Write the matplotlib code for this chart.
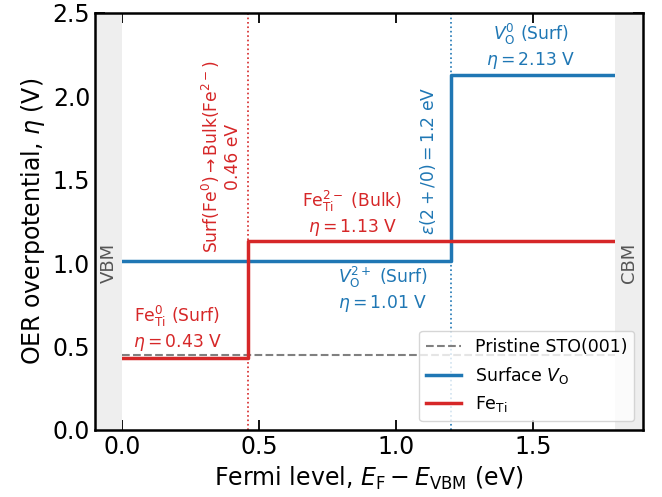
import matplotlib
matplotlib.use("Agg")
import matplotlib.pyplot as plt

gap = 1.8
pristine = 0.45
vo_steps_x = [0.0, 1.2, gap]
vo_vals = [1.01, 2.13]
fe_steps_x = [0.0, 0.46, gap]
fe_vals = [0.43, 1.13]
blue = '#1f77b4'
red = '#d62728'

fig = plt.figure(figsize=(6.62, 4.97), dpi=100)
ax = fig.add_axes([0.1435, 0.135, 0.8275, 0.839])

ax.axvspan(-0.1, 0.0, color='#eeeeee', lw=0, zorder=2.6)
ax.axvspan(gap, 1.9, color='#eeeeee', lw=0, zorder=2.6)

ax.plot([0, gap], [pristine, pristine], ls='--', color='gray', lw=1.5, label='Pristine STO(001)')
ax.step(vo_steps_x, vo_vals + [vo_vals[-1]], where='post', color=blue, lw=2.5, label='Surface $V_{\\rm O}$')
ax.step(fe_steps_x, fe_vals + [fe_vals[-1]], where='post', color=red, lw=2.5, label='Fe$_{\\rm Ti}$')

ax.axvline(fe_steps_x[1], color=red, ls=':', lw=1.2, zorder=0)
ax.axvline(vo_steps_x[1], color=blue, ls=':', lw=1.2, zorder=0)

fs = 12.3
ax.text(0.36, 1.06, 'Surf(Fe$^0$)$\\rightarrow$Bulk(Fe$^{2-}$)\n0.46 eV', rotation=90,
        ha='center', va='bottom', color=red, fontsize=fs, multialignment='center')
ax.text(1.115, 1.61, '$\\epsilon(2+/0) = 1.2$ eV', rotation=90, ha='center', va='center',
        color=blue, fontsize=fs)
ax.text(-0.05, 1.0, 'VBM', rotation=90, ha='center', va='center', color='#555555', fontsize=13, zorder=4)
ax.text(1.85, 1.0, 'CBM', rotation=90, ha='center', va='center', color='#555555', fontsize=13, zorder=4)

ax.text(0.2, 0.46, 'Fe$_{\\rm Ti}^{0}$ (Surf)\n$\\eta = 0.43$ V', ha='center', va='bottom',
        color=red, fontsize=fs, multialignment='center')
ax.text(0.84, 1.15, 'Fe$_{\\rm Ti}^{2-}$ (Bulk)\n$\\eta = 1.13$ V', ha='center', va='bottom',
        color=red, fontsize=fs, multialignment='center')
ax.text(0.95, 0.99, '$V_{\\rm O}^{2+}$ (Surf)\n$\\eta = 1.01$ V', ha='center', va='top',
        color=blue, fontsize=fs, multialignment='center')
ax.text(1.49, 2.15, '$V_{\\rm O}^{0}$ (Surf)\n$\\eta = 2.13$ V', ha='center', va='bottom',
        color=blue, fontsize=fs, multialignment='center')

ax.set_xlim(-0.1, 1.9)
ax.set_ylim(0, 2.5)
ax.set_xticks([0.0, 0.5, 1.0, 1.5])
ax.set_yticks([0.0, 0.5, 1.0, 1.5, 2.0, 2.5])
ax.tick_params(direction='in', top=True, right=True, labelsize=17, length=7, width=1.3)
for s in ax.spines.values():
    s.set_linewidth(1.8)
    s.set_zorder(5)
ax.set_xlabel('Fermi level, $E_{\\rm F} - E_{\\rm VBM}$ (eV)', fontsize=17)
ax.set_ylabel('OER overpotential, $\\eta$ (V)', fontsize=17)
leg = ax.legend(loc='lower right', fontsize=12.5)
leg.set_zorder(6)

fig.savefig('out.png', dpi=100)
